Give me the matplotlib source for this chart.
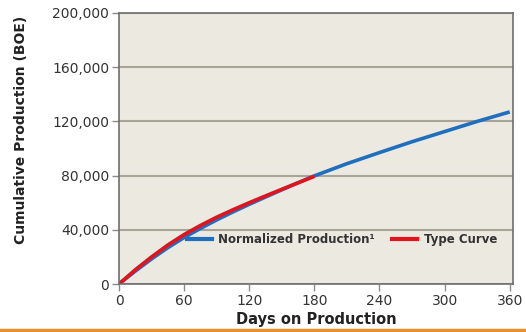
import matplotlib
matplotlib.use("Agg")
from matplotlib import pyplot as plt
from matplotlib.lines import Line2D

# Days on production
days_norm = [0, 15, 30, 45, 60, 75, 90, 105, 120, 135, 150, 165, 180,
             210, 240, 270, 300, 330, 360]
days_type = [0, 15, 30, 45, 60, 75, 90, 105, 120, 135, 150, 165, 180]

# Cumulative production (BOE)
normalized = [0, 9500, 18500, 26800, 34300, 41000, 47300, 53200, 58800,
              64200, 69500, 74700, 79800, 88800, 97000, 105000, 112500,
              120000, 127000]
type_curve = [0, 10500, 20000, 28800, 36500, 43200, 49300, 54800, 60000,
              65000, 69900, 74700, 79500]

x_ticks = [0, 60, 120, 180, 240, 300, 360]
y_ticks = [0, 40000, 80000, 120000, 160000, 200000]

plt.rcParams['font.family'] = 'DejaVu Sans'

fig = plt.figure(figsize=(5.26, 3.32), dpi=100)
ax = fig.add_axes([119 / 526, 1 - 284 / 332, (513 - 119) / 526, (284 - 13) / 332])
ax.set_facecolor('#ECE9E0')

ax.plot(days_norm, normalized, color='#1F6FBF', lw=2.6, solid_capstyle='butt')
ax.plot(days_type, type_curve, color='#E3131E', lw=2.6, solid_capstyle='butt')

ax.set_xlim(0, 363)
ax.set_ylim(0, 200000)
ax.set_xticks(x_ticks)
ax.set_yticks(y_ticks)
ax.set_yticklabels(['{:,}'.format(v) for v in y_ticks])
ax.tick_params(labelsize=10, colors='#333333', length=5, width=1,
               color='#8a8a8a', pad=2)
ax.grid(axis='y', color='#A8A498', lw=1.5)
ax.set_axisbelow(True)
for s in ax.spines.values():
    s.set_color('#6e6e6e')
    s.set_linewidth(1.2)

ax.set_xlabel('Days on Production', fontsize=10.5, fontweight='bold',
              color='#222222')
ax.xaxis.set_label_coords(0.5, -0.105)
ax.set_ylabel('Cumulative Production (BOE)', fontsize=10, fontweight='bold',
              color='#222222')
ax.yaxis.set_label_coords(-0.232, 0.57)

handles = [Line2D([], [], color='#1F6FBF', lw=3),
           Line2D([], [], color='#E3131E', lw=3)]
leg = ax.legend(handles, ['Normalized Production\u00b9', 'Type Curve'],
                loc='center left', bbox_to_anchor=(0.145, 0.165), ncol=2,
                frameon=False, handlelength=2.1, handletextpad=0.55,
                columnspacing=1.5, prop={'size': 8.5, 'weight': 'bold'})
for t in leg.get_texts():
    t.set_color('#333333')

fig.add_artist(Line2D([0, 1], [2.5 / 332, 2.5 / 332], color='#E8912A', lw=2.5))

plt.savefig('out.png', dpi=100)
